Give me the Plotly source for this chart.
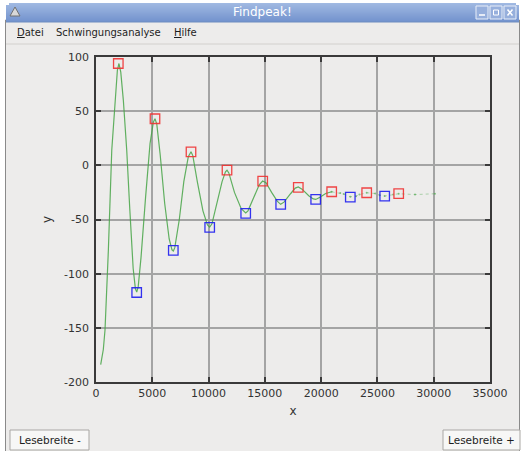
import plotly.graph_objects as go

# Sampled response curve (x in samples, y in amplitude units)
curve_x = [417, 650, 800, 1000, 1100, 1400, 1700, 1900, 2040, 2200, 2430, 2730, 3000, 3300,
           3500, 3620, 3750, 4000, 4400, 4800, 5100, 5240, 5400, 5700, 6100, 6500, 6750, 6870,
           7000, 7400, 7800, 8200, 8440, 8600, 9000, 9500, 9900, 10100, 10300, 10700, 11200,
           11500, 11640, 11800, 12300, 12900, 13300, 13500, 14000, 14500, 14800, 15100, 15600,
           16100, 16400, 16700, 17300, 17700, 17970, 18300, 18900, 19300, 19520, 19900, 20400,
           20937]
curve_y = [-184, -170, -152, -108, -78, 14, 60, 88, 94, 86, 60, 14, -40, -95,
           -114, -117, -112, -85, -30, 20, 40, 43, 38, 10, -35, -68, -78, -79,
           -76, -50, -15, 8, 12.5, 9, -15, -42, -55, -57, -54, -37, -15,
           -6, -4.5, -7, -25, -40, -44, -42, -30, -18, -14.5, -16, -25,
           -33, -36, -34, -26, -21, -20, -22, -28, -31, -31.5, -29.5, -26,
           -24.4]

# Sparse tail of the record
tail_x = [20937, 21700, 22000, 22590, 23100, 23400, 24046, 24800, 25200, 25645, 26400, 26889,
          28340, 30115]
tail_y = [-24.4, -25.5, -26.5, -29.0, -28.5, -27.0, -25.3, -26.0, -27.5, -28.4, -27.0, -26.2,
          -27.0, -26.2]

# Detected maxima and minima
peak_x = [1981, 5241, 8439, 11637, 14808, 17970, 20937, 24046, 26889]
peak_y = [94, 43, 12.5, -4.4, -14.5, -20.3, -24.4, -25.3, -26.2]
valley_x = [3615, 6867, 10100, 13298, 16407, 19516, 22590, 25645]
valley_y = [-117.4, -78.5, -57.2, -44.3, -36.0, -31.4, -29.3, -28.4]

x_ticks = [0, 5000, 10000, 15000, 20000, 25000, 30000, 35000]
y_ticks = [100, 50, 0, -50, -100, -150, -200]

W, H = 522, 451
L, R, T, B = 96, 490, 57, 382
WIN_BG = "#edeceb"
FONT = "DejaVu Sans"


def px(xp):
    return (xp - L) / (R - L)


def py(yp):
    return (B - yp) / (B - T)


fig = go.Figure()

fig.add_trace(go.Scatter(x=curve_x, y=curve_y, mode="lines",
                         line=dict(color="rgba(70,165,70,0.85)", width=1.2),
                         hoverinfo="skip", showlegend=False))
fig.add_trace(go.Scatter(x=tail_x, y=tail_y, mode="lines+markers",
                         line=dict(color="rgba(70,165,70,0.4)", width=1, dash="dot"),
                         marker=dict(color="rgba(70,165,70,0.6)", size=2),
                         hoverinfo="skip", showlegend=False))
fig.add_trace(go.Scatter(x=peak_x, y=peak_y, mode="markers",
                         marker=dict(symbol="square-open", size=9.5, color="rgba(240,50,50,0.9)",
                                     line=dict(width=1.3)),
                         showlegend=False))
fig.add_trace(go.Scatter(x=valley_x, y=valley_y, mode="markers",
                         marker=dict(symbol="square-open", size=9.5, color="rgba(30,30,240,0.9)",
                                     line=dict(width=1.3)),
                         showlegend=False))

shapes = []
annotations = []

# window body
shapes.append(dict(type="rect", xref="paper", yref="paper", layer="below",
                   x0=px(5.5), x1=px(519.5), y0=py(452), y1=py(20),
                   fillcolor=WIN_BG, line=dict(color="#8a8a8a", width=1)))

# title bar gradient
top, bot = 3, 22
steps = 19
for i in range(steps):
    f = i / (steps - 1)
    r = int(160 - 45 * f)
    g = int(185 - 38 * f)
    b = int(226 - 20 * f)
    y0 = top + (bot - top) * i / steps
    y1 = top + (bot - top) * (i + 1) / steps
    x0 = 6 + (3 if i < 2 else 0)
    x1 = 519 - (3 if i < 2 else 0)
    shapes.append(dict(type="rect", xref="paper", yref="paper", layer="below",
                       x0=px(x0), x1=px(x1), y0=py(y1), y1=py(y0),
                       fillcolor=f"rgb({r},{g},{b})", line=dict(width=0)))
shapes.append(dict(type="line", xref="paper", yref="paper", layer="below",
                   x0=px(6), x1=px(519), y0=py(22), y1=py(22),
                   line=dict(color="#6e8cc0", width=1)))

# window icon
shapes.append(dict(type="path", xref="paper", yref="paper", layer="below",
                   path=f"M {px(10)},{py(16)} L {px(15)},{py(7)} L {px(20)},{py(16)} Z",
                   fillcolor="#d8d8d8", line=dict(color="#707070", width=1)))

# title bar buttons
for bx, glyph in [(476, "min"), (490, "max"), (504, "close")]:
    shapes.append(dict(type="rect", xref="paper", yref="paper", layer="below",
                       x0=px(bx), x1=px(bx + 12), y0=py(19), y1=py(6),
                       fillcolor="rgba(150,175,220,1)", line=dict(color="#e8eef8", width=1)))
    if glyph == "min":
        shapes.append(dict(type="line", xref="paper", yref="paper", layer="below",
                           x0=px(bx + 3), x1=px(bx + 9), y0=py(15), y1=py(15),
                           line=dict(color="white", width=1.5)))
    elif glyph == "max":
        shapes.append(dict(type="rect", xref="paper", yref="paper", layer="below",
                           x0=px(bx + 3.5), x1=px(bx + 8.5), y0=py(15), y1=py(10),
                           line=dict(color="white", width=1)))
    else:
        shapes.append(dict(type="path", xref="paper", yref="paper", layer="below",
                           path=f"M {px(bx + 3.5)},{py(9.5)} L {px(bx + 8.5)},{py(15.5)} "
                                f"M {px(bx + 8.5)},{py(9.5)} L {px(bx + 3.5)},{py(15.5)}",
                           line=dict(color="white", width=1.5)))

annotations.append(dict(xref="paper", yref="paper", x=px(262), y=py(12), text="Findpeak!",
                        showarrow=False, font=dict(family=FONT, size=12, color="white"),
                        xanchor="center", yanchor="middle"))

# menu bar
menu_items = [("<u>D</u>atei", 15), ("Schwingungsanalyse", 54), ("<u>H</u>ilfe", 172)]
for label, mx in menu_items:
    annotations.append(dict(xref="paper", yref="paper", x=px(mx), y=py(33), text=label,
                            showarrow=False, font=dict(family=FONT, size=10, color="#1e1e1e"),
                            xanchor="left", yanchor="middle"))
shapes.append(dict(type="line", xref="paper", yref="paper", layer="below",
                   x0=px(6), x1=px(519), y0=py(44), y1=py(44),
                   line=dict(color="#d2d0cd", width=1)))

# bottom buttons
for x0b, x1b, label in [(10, 89, "Lesebreite -"), (443, 520, "Lesebreite +")]:
    shapes.append(dict(type="rect", xref="paper", yref="paper", layer="below",
                       x0=px(x0b), x1=px(x1b), y0=py(450), y1=py(430),
                       fillcolor="#f7f7f6", line=dict(color="#a9a7a4", width=1)))
    annotations.append(dict(xref="paper", yref="paper", x=px((x0b + x1b) / 2), y=py(440),
                            text=label, showarrow=False,
                            font=dict(family=FONT, size=10.5, color="#1e1e1e"),
                            xanchor="center", yanchor="middle"))

axis_common = dict(showgrid=True, gridcolor="#a4a4a4", gridwidth=1.5,
                   showline=True, linecolor="#3a3a3a", linewidth=1.5, mirror="allticks",
                   ticks="inside", ticklen=5, tickwidth=1.5, tickcolor="#3a3a3a",
                   zeroline=False, tickfont=dict(family=FONT, size=11, color="#333333"))

fig.update_layout(
    width=W, height=H,
    margin=dict(l=L, r=W - R, t=T, b=H - B),
    paper_bgcolor="white", plot_bgcolor=WIN_BG,
    shapes=shapes, annotations=annotations,
    xaxis=dict(range=[0, 35000], tickvals=x_ticks, ticktext=[str(v) for v in x_ticks],
               title=dict(text="x", font=dict(family=FONT, size=12, color="#333333"), standoff=8),
               **axis_common),
    yaxis=dict(range=[-200, 100], tickvals=y_ticks, ticktext=[str(v) for v in y_ticks],
               ticklabelstandoff=3,
               title=dict(text="y", font=dict(family=FONT, size=12, color="#333333"), standoff=10),
               **axis_common),
)

fig.write_html("out.html")
